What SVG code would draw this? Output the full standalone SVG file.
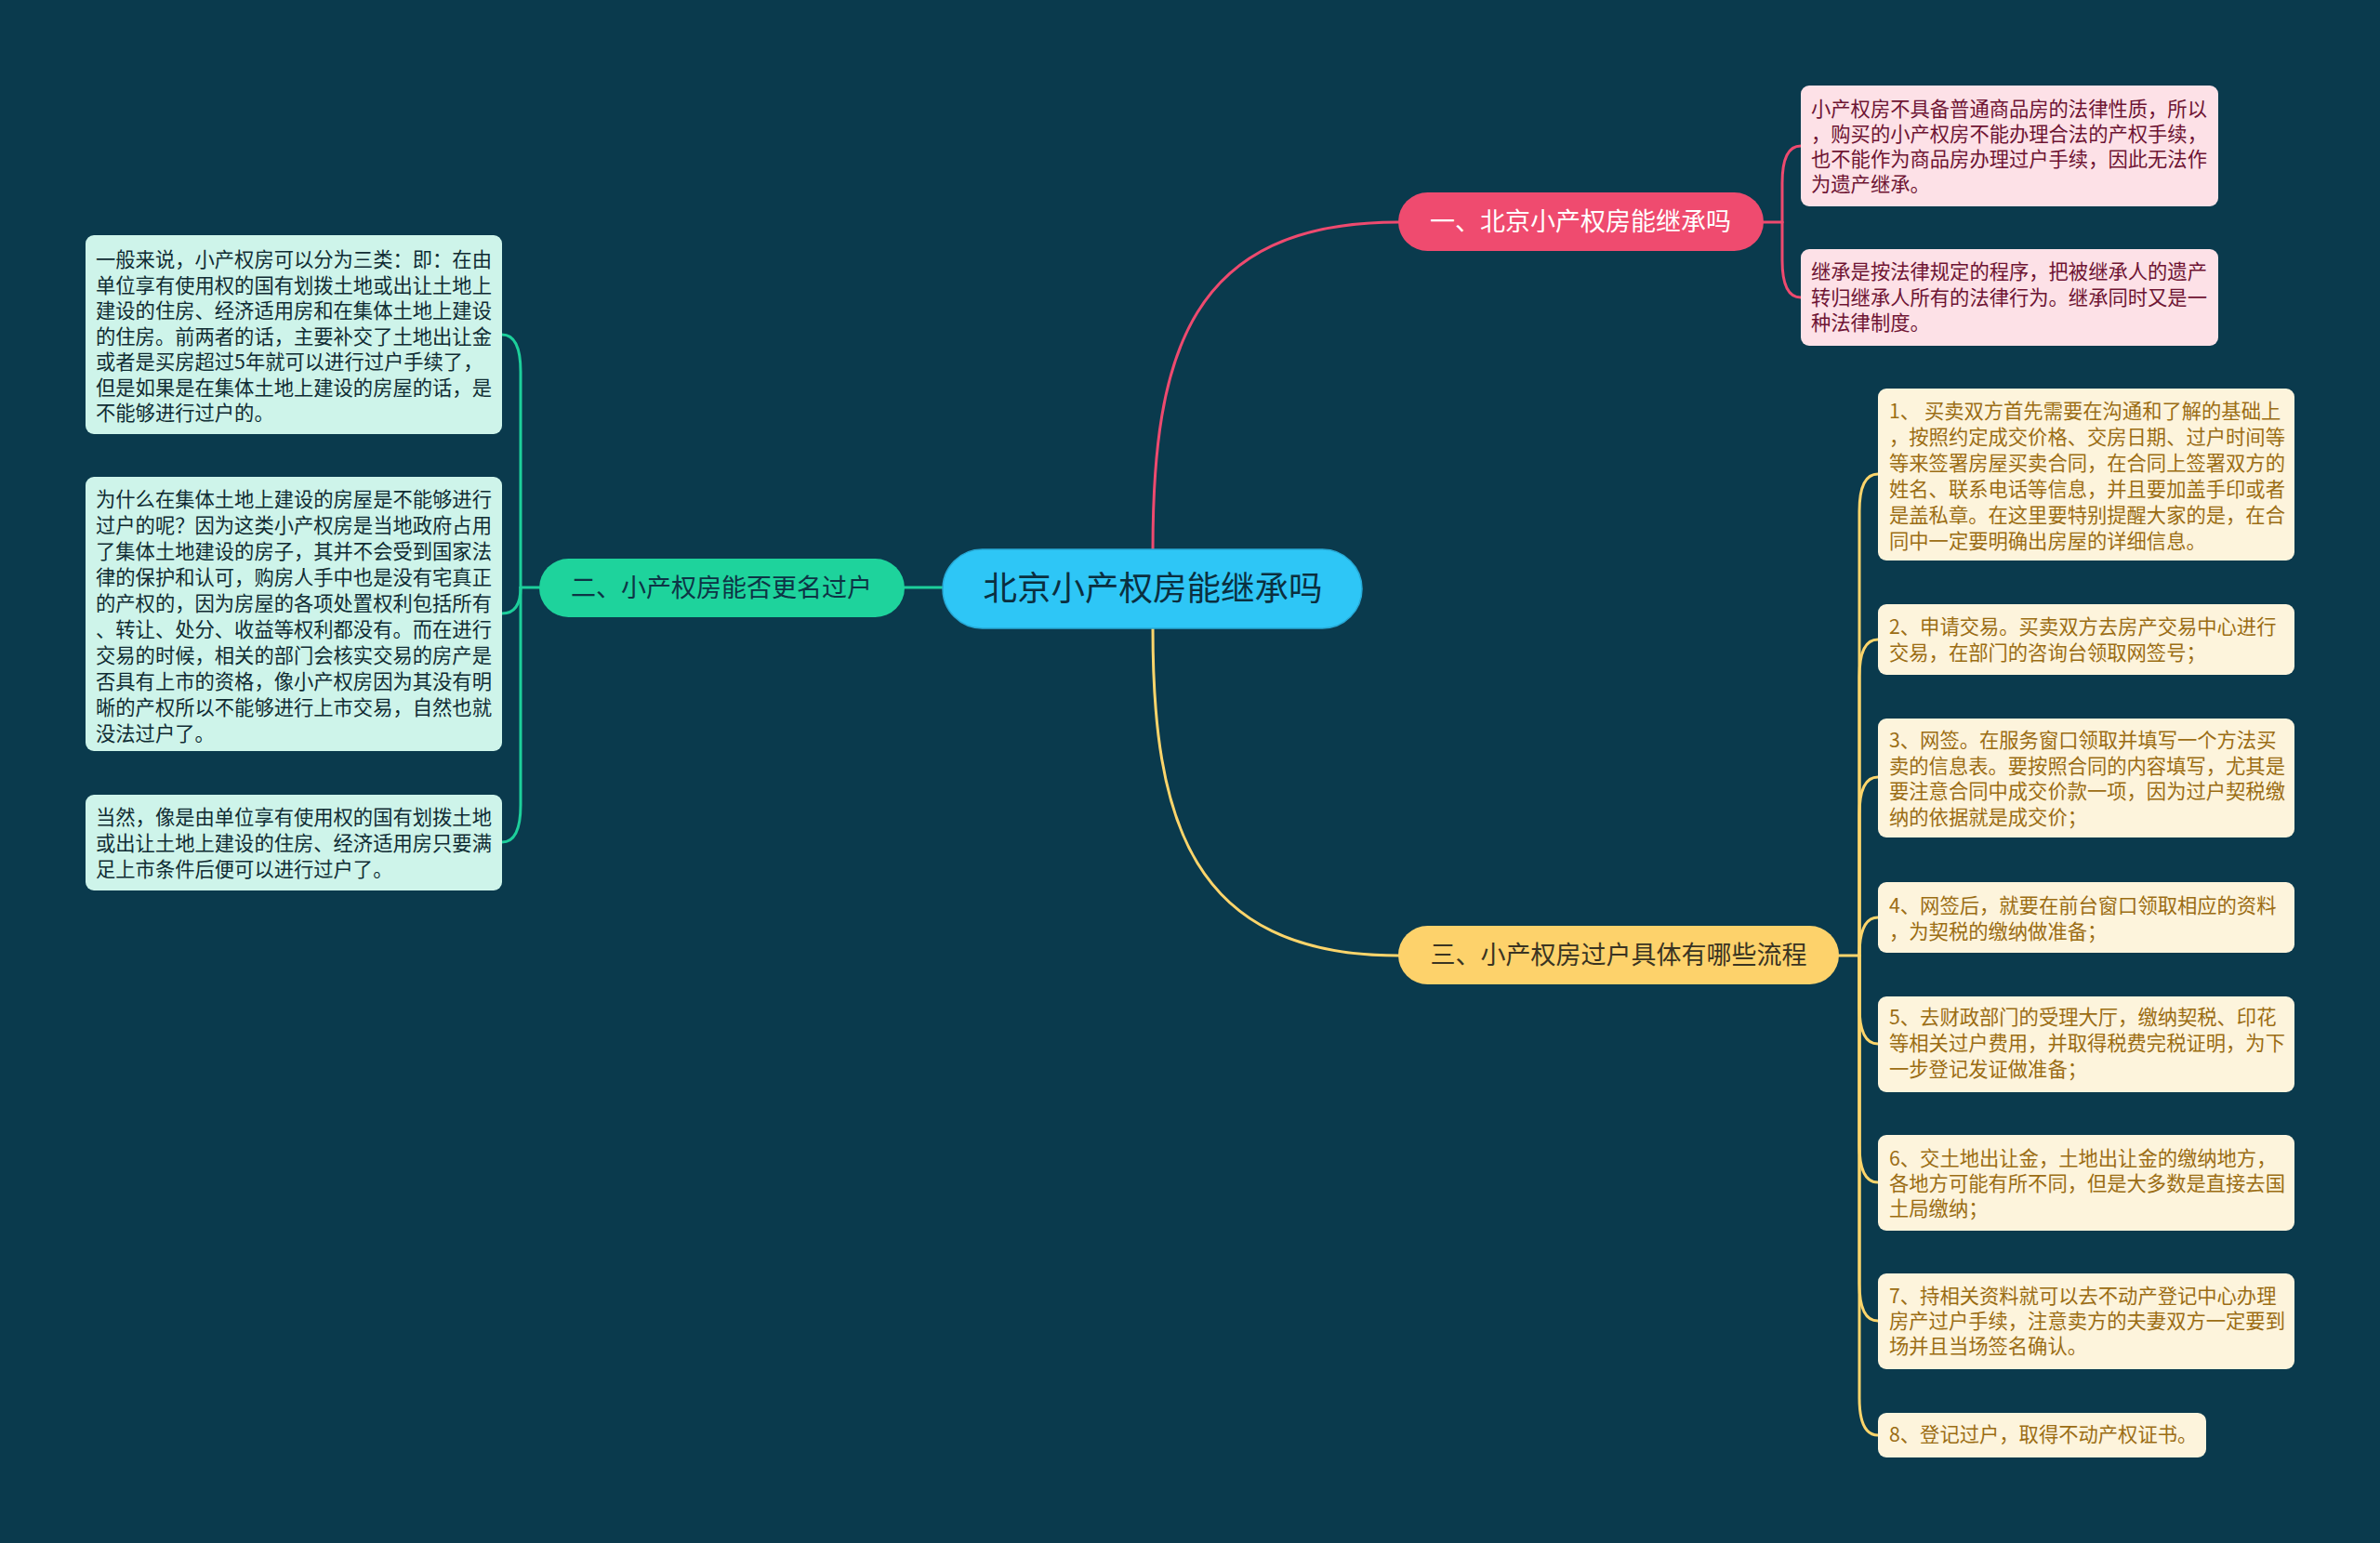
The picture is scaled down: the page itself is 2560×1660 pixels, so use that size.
<svg xmlns="http://www.w3.org/2000/svg" width="2560" height="1660" viewBox="0 0 2560 1660">
<style>
text{font-family:"Noto Sans CJK SC","Noto Sans",sans-serif;}
.leaf{font-size:21.3px;}
.gbox{fill:#cef4ea;}
.pbox{fill:#fde1e7;}
.ybox{fill:#fdf4dc;}
.gt{fill:#102c33;}
.pt{fill:#6e1433;}
.yt{fill:#9b6d14;}
.topic{font-size:27px;text-anchor:middle;}
.c{fill:none;stroke-linecap:round;}
.cp{stroke:#ee4a6f;stroke-width:3;}
.cg{stroke:#1dcf9b;stroke-width:3;}
.cy{stroke:#fdd56b;stroke-width:3;}
</style>
<rect x="0" y="0" width="2560" height="1660" fill="#0a3a4d"/>

<g id="connectors">
  <path class="c cp" d="M1240,592 C1240,380 1280,239 1504,239"/>
  <path class="c cy" d="M1240,676 C1240,880 1280,1028 1504,1028"/>
  <path class="c cg" stroke-width="4" d="M973,632 H1014"/>
  <path class="c cp" d="M1897,239 H1917"/>
  <path class="c cp" d="M1917,239 V197 Q1917,157 1937,157"/>
  <path class="c cp" d="M1917,239 V280 Q1917,320 1937,320"/>
  <path class="c cg" d="M580,632 H560"/>
  <path class="c cg" d="M560,632 V400 Q560,360 540,360"/>
  <path class="c cg" d="M560,632 Q560,660 540,660"/>
  <path class="c cg" d="M560,632 V866 Q560,906 540,906"/>
  <path class="c cy" d="M1978,1028 H2000"/>
  <path class="c cy" d="M2000,1028 V550 Q2000,510 2020,510"/>
  <path class="c cy" d="M2000,1028 V728 Q2000,688 2020,688"/>
  <path class="c cy" d="M2000,1028 V876 Q2000,836 2020,836"/>
  <path class="c cy" d="M2000,1028 Q2000,987 2020,987"/>
  <path class="c cy" d="M2000,1028 V1083 Q2000,1123 2020,1123"/>
  <path class="c cy" d="M2000,1028 V1232 Q2000,1272 2020,1272"/>
  <path class="c cy" d="M2000,1028 V1381 Q2000,1421 2020,1421"/>
  <path class="c cy" d="M2000,1028 V1504 Q2000,1544 2020,1544"/>
</g>

<g id="root">
  <rect x="1014" y="591" width="451" height="85" rx="42.5" fill="#2ec6f6" stroke="#27a9d6" stroke-width="1.5"/>
  <text x="1240" y="646" font-size="36.5" text-anchor="middle" fill="#0b2f3f">北京小产权房能继承吗</text>
</g>

<g id="topic1">
  <rect x="1504" y="207" width="393" height="63" rx="31.5" fill="#ef4b6f"/>
  <text class="topic" x="1700" y="248" fill="#ffffff">一、北京小产权房能继承吗</text>
</g>
<g id="topic2">
  <rect x="580" y="601" width="393" height="63" rx="31.5" fill="#1ed39c"/>
  <text class="topic" x="776" y="642" fill="#0d3445">二、小产权房能否更名过户</text>
</g>
<g id="topic3">
  <rect x="1504" y="996" width="474" height="63" rx="31.5" fill="#fdd26b"/>
  <text class="topic" x="1741" y="1037" fill="#3a3422">三、小产权房过户具体有哪些流程</text>
</g>

<g id="g1">
  <rect class="gbox" x="92" y="253" width="448" height="214" rx="9"/>
  <text class="leaf gt" x="103" y="287"><tspan x="103">一般来说，小产权房可以分为三类：即：在由</tspan><tspan x="103" dy="27.5">单位享有使用权的国有划拨土地或出让土地上</tspan><tspan x="103" dy="27.5">建设的住房、经济适用房和在集体土地上建设</tspan><tspan x="103" dy="27.5">的住房。前两者的话，主要补交了土地出让金</tspan><tspan x="103" dy="27.5">或者是买房超过5年就可以进行过户手续了，</tspan><tspan x="103" dy="27.5">但是如果是在集体土地上建设的房屋的话，是</tspan><tspan x="103" dy="27.5">不能够进行过户的。</tspan></text>
</g>
<g id="g2">
  <rect class="gbox" x="92" y="513" width="448" height="295" rx="9"/>
  <text class="leaf gt" x="103" y="545"><tspan x="103">为什么在集体土地上建设的房屋是不能够进行</tspan><tspan x="103" dy="28">过户的呢？因为这类小产权房是当地政府占用</tspan><tspan x="103" dy="28">了集体土地建设的房子，其并不会受到国家法</tspan><tspan x="103" dy="28">律的保护和认可，购房人手中也是没有宅真正</tspan><tspan x="103" dy="28">的产权的，因为房屋的各项处置权利包括所有</tspan><tspan x="103" dy="28">、转让、处分、收益等权利都没有。而在进行</tspan><tspan x="103" dy="28">交易的时候，相关的部门会核实交易的房产是</tspan><tspan x="103" dy="28">否具有上市的资格，像小产权房因为其没有明</tspan><tspan x="103" dy="28">晰的产权所以不能够进行上市交易，自然也就</tspan><tspan x="103" dy="28">没法过户了。</tspan></text>
</g>
<g id="g3">
  <rect class="gbox" x="92" y="855" width="448" height="103" rx="9"/>
  <text class="leaf gt" x="103" y="887"><tspan x="103">当然，像是由单位享有使用权的国有划拨土地</tspan><tspan x="103" dy="28">或出让土地上建设的住房、经济适用房只要满</tspan><tspan x="103" dy="28">足上市条件后便可以进行过户了。</tspan></text>
</g>

<g id="p1">
  <rect class="pbox" x="1937" y="92" width="449" height="130" rx="9"/>
  <text class="leaf pt" x="1948" y="125"><tspan x="1948">小产权房不具备普通商品房的法律性质，所以</tspan><tspan x="1948" dy="27">，购买的小产权房不能办理合法的产权手续，</tspan><tspan x="1948" dy="27">也不能作为商品房办理过户手续，因此无法作</tspan><tspan x="1948" dy="27">为遗产继承。</tspan></text>
</g>
<g id="p2">
  <rect class="pbox" x="1937" y="268" width="449" height="104" rx="9"/>
  <text class="leaf pt" x="1948" y="300"><tspan x="1948">继承是按法律规定的程序，把被继承人的遗产</tspan><tspan x="1948" dy="27.5">转归继承人所有的法律行为。继承同时又是一</tspan><tspan x="1948" dy="27.5">种法律制度。</tspan></text>
</g>

<g id="y1">
  <rect class="ybox" x="2020" y="418" width="448" height="185" rx="9"/>
  <text class="leaf yt" x="2032" y="450"><tspan x="2032">1、 买卖双方首先需要在沟通和了解的基础上</tspan><tspan x="2032" dy="28">，按照约定成交价格、交房日期、过户时间等</tspan><tspan x="2032" dy="28">等来签署房屋买卖合同，在合同上签署双方的</tspan><tspan x="2032" dy="28">姓名、联系电话等信息，并且要加盖手印或者</tspan><tspan x="2032" dy="28">是盖私章。在这里要特别提醒大家的是，在合</tspan><tspan x="2032" dy="28">同中一定要明确出房屋的详细信息。</tspan></text>
</g>
<g id="y2">
  <rect class="ybox" x="2020" y="650" width="448" height="76" rx="9"/>
  <text class="leaf yt" x="2032" y="682"><tspan x="2032">2、申请交易。买卖双方去房产交易中心进行</tspan><tspan x="2032" dy="28">交易，在部门的咨询台领取网签号；</tspan></text>
</g>
<g id="y3">
  <rect class="ybox" x="2020" y="773" width="448" height="128" rx="9"/>
  <text class="leaf yt" x="2032" y="804"><tspan x="2032">3、网签。在服务窗口领取并填写一个方法买</tspan><tspan x="2032" dy="27.5">卖的信息表。要按照合同的内容填写，尤其是</tspan><tspan x="2032" dy="27.5">要注意合同中成交价款一项，因为过户契税缴</tspan><tspan x="2032" dy="27.5">纳的依据就是成交价；</tspan></text>
</g>
<g id="y4">
  <rect class="ybox" x="2020" y="949" width="448" height="76" rx="9"/>
  <text class="leaf yt" x="2032" y="982"><tspan x="2032">4、网签后，就要在前台窗口领取相应的资料</tspan><tspan x="2032" dy="28">，为契税的缴纳做准备；</tspan></text>
</g>
<g id="y5">
  <rect class="ybox" x="2020" y="1072" width="448" height="103" rx="9"/>
  <text class="leaf yt" x="2032" y="1102"><tspan x="2032">5、去财政部门的受理大厅，缴纳契税、印花</tspan><tspan x="2032" dy="28">等相关过户费用，并取得税费完税证明，为下</tspan><tspan x="2032" dy="28">一步登记发证做准备；</tspan></text>
</g>
<g id="y6">
  <rect class="ybox" x="2020" y="1221" width="448" height="103" rx="9"/>
  <text class="leaf yt" x="2032" y="1254"><tspan x="2032">6、交土地出让金，土地出让金的缴纳地方，</tspan><tspan x="2032" dy="27">各地方可能有所不同，但是大多数是直接去国</tspan><tspan x="2032" dy="27">土局缴纳；</tspan></text>
</g>
<g id="y7">
  <rect class="ybox" x="2020" y="1370" width="448" height="103" rx="9"/>
  <text class="leaf yt" x="2032" y="1402"><tspan x="2032">7、持相关资料就可以去不动产登记中心办理</tspan><tspan x="2032" dy="27">房产过户手续，注意卖方的夫妻双方一定要到</tspan><tspan x="2032" dy="27">场并且当场签名确认。</tspan></text>
</g>
<g id="y8">
  <rect class="ybox" x="2020" y="1520" width="353" height="48" rx="9"/>
  <text class="leaf yt" x="2032" y="1551">8、登记过户，取得不动产权证书。</text>
</g>
</svg>
